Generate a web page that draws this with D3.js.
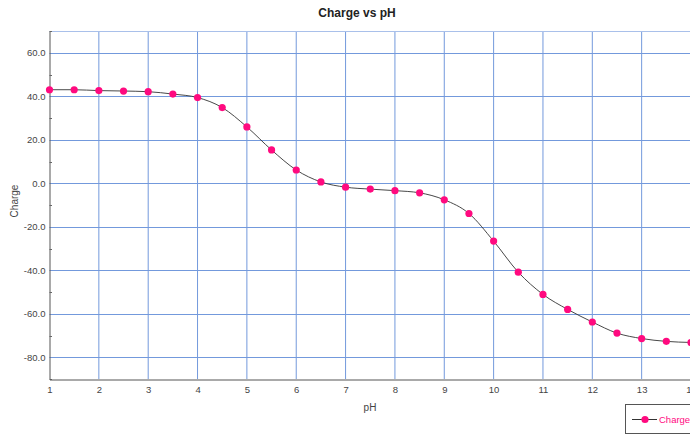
<!DOCTYPE html>
<html>
<head>
<meta charset="utf-8">
<script src="https://cdn.jsdelivr.net/npm/d3@7"></script>
<style>
  html, body { margin: 0; padding: 0; background: #fff; }
  svg { display: block; font-family: "Liberation Sans", Arial, sans-serif; }
</style>
</head>
<body>
<svg id="chart" width="690" height="437"></svg>
<script>
// ---- data ----
const pH = [1, 1.5, 2, 2.5, 3, 3.5, 4, 4.5, 5, 5.5, 6, 6.5, 7, 7.5, 8, 8.5, 9, 9.5, 10, 10.5, 11, 11.5, 12, 12.5, 13, 13.5, 14];
const charge = [43.0, 43.0, 42.6, 42.4, 42.1, 41.0, 39.4, 34.8, 25.9, 15.3, 6.1, 0.6, -1.8, -2.7, -3.4, -4.4, -7.6, -13.9, -26.6, -40.9, -51.1, -58.0, -63.8, -68.9, -71.4, -72.7, -73.2];
const xTicks = [1, 2, 3, 4, 5, 6, 7, 8, 9, 10, 11, 12, 13, 14];
const xTickLabels = ["1", "2", "3", "4", "5", "6", "7", "8", "9", "10", "11", "12", "13", "14"];
const yTicks = [-80, -60, -40, -20, 0, 20, 40, 60];
const yTickLabels = ["-80.0", "-60.0", "-40.0", "-20.0", "0.0", "20.0", "40.0", "60.0"];
const yMinorTicks = [-90, -70, -50, -30, -10, 10, 30, 50, 70];
const seriesName = "Charge";
const title = "Charge vs pH";
const xTitle = "pH";
const yTitle = "Charge";

// ---- layout ----
const svg = d3.select("#chart");
const plotLeft = 49.5, plotTop = 31, plotBottom = 379;
const x = d3.scaleLinear().domain([1, 14]).range([plotLeft, 691]);
const y = d3.scaleLinear().domain([-90, 70]).range([plotBottom, plotTop]);
const gridColor = "#7399dc";

// grid
const g = svg.append("g");
g.selectAll("line.vg").data(xTicks.slice(1)).join("line")
  .attr("x1", d => x(d)).attr("x2", d => x(d))
  .attr("y1", plotTop).attr("y2", plotBottom)
  .attr("stroke", gridColor).attr("stroke-width", 1);
g.selectAll("line.hg").data(yTicks).join("line")
  .attr("x1", plotLeft).attr("x2", 690)
  .attr("y1", d => Math.round(y(d)) + 0.5).attr("y2", d => Math.round(y(d)) + 0.5)
  .attr("stroke", gridColor).attr("stroke-width", 1);
// top border
g.append("line").attr("x1", plotLeft).attr("x2", 690).attr("y1", plotTop + 0.5).attr("y2", plotTop + 0.5)
  .attr("stroke", "#a9c0ea").attr("stroke-width", 1);

// y axis
const yAxis = d3.axisLeft(y).tickValues(yTicks).tickSize(0).tickPadding(4)
  .tickFormat((d, i) => yTickLabels[i]);
const ya = svg.append("g").attr("transform", `translate(${plotLeft},0)`).call(yAxis);
ya.select(".domain").attr("stroke", "#555");
ya.selectAll("text").attr("font-size", "9.5px").attr("fill", "#444")
  .attr("font-family", "'Liberation Sans', Arial, sans-serif");
// minor ticks
svg.selectAll("line.minor").data(yMinorTicks).join("line")
  .attr("x1", plotLeft).attr("x2", plotLeft + 2.5)
  .attr("y1", d => Math.round(y(d)) + 0.5).attr("y2", d => Math.round(y(d)) + 0.5)
  .attr("stroke", "#666");

// x axis
const xAxis = d3.axisBottom(x).tickValues(xTicks).tickSize(0).tickPadding(7)
  .tickFormat((d, i) => xTickLabels[i]);
const xa = svg.append("g").attr("transform", `translate(0,${plotBottom + 0.5})`).call(xAxis);
xa.select(".domain").attr("stroke", "#555");
xa.selectAll("text").attr("font-size", "9.5px").attr("fill", "#444")
  .attr("font-family", "'Liberation Sans', Arial, sans-serif");

// line
const pts = pH.map((p, i) => [p, charge[i]]);
svg.append("path").datum(pts)
  .attr("d", d3.line().x(d => x(d[0])).y(d => y(d[1])).curve(d3.curveMonotoneX))
  .attr("fill", "none").attr("stroke", "#333").attr("stroke-width", 0.9);
svg.selectAll("circle.pt").data(pts).join("circle")
  .attr("cx", d => x(d[0])).attr("cy", d => y(d[1])).attr("r", 3.6)
  .attr("fill", "#ff0a7f");

// titles
svg.append("text").attr("x", 357).attr("y", 17).attr("text-anchor", "middle")
  .attr("font-size", "12px").attr("font-weight", "bold").attr("fill", "#222").text(title);
svg.append("text").attr("x", 370).attr("y", 411).attr("text-anchor", "middle")
  .attr("font-size", "10px").attr("fill", "#444").text(xTitle);
svg.append("text").attr("transform", "translate(18,201) rotate(-90)").attr("text-anchor", "middle")
  .attr("font-size", "10px").attr("fill", "#444").text(yTitle);

// legend
const lg = svg.append("g");
lg.append("rect").attr("x", 625.5).attr("y", 404.5).attr("width", 80).attr("height", 29)
  .attr("fill", "#fff").attr("stroke", "#555").attr("stroke-width", 1);
lg.append("line").attr("x1", 632).attr("x2", 657).attr("y1", 419.5).attr("y2", 419.5)
  .attr("stroke", "#333").attr("stroke-width", 1);
lg.append("circle").attr("cx", 645).attr("cy", 419.5).attr("r", 3.6).attr("fill", "#ff0a7f");
lg.append("text").attr("x", 659).attr("y", 423).attr("font-size", "9.5px")
  .attr("fill", "#ff0a7f").text(seriesName);
</script>
</body>
</html>
